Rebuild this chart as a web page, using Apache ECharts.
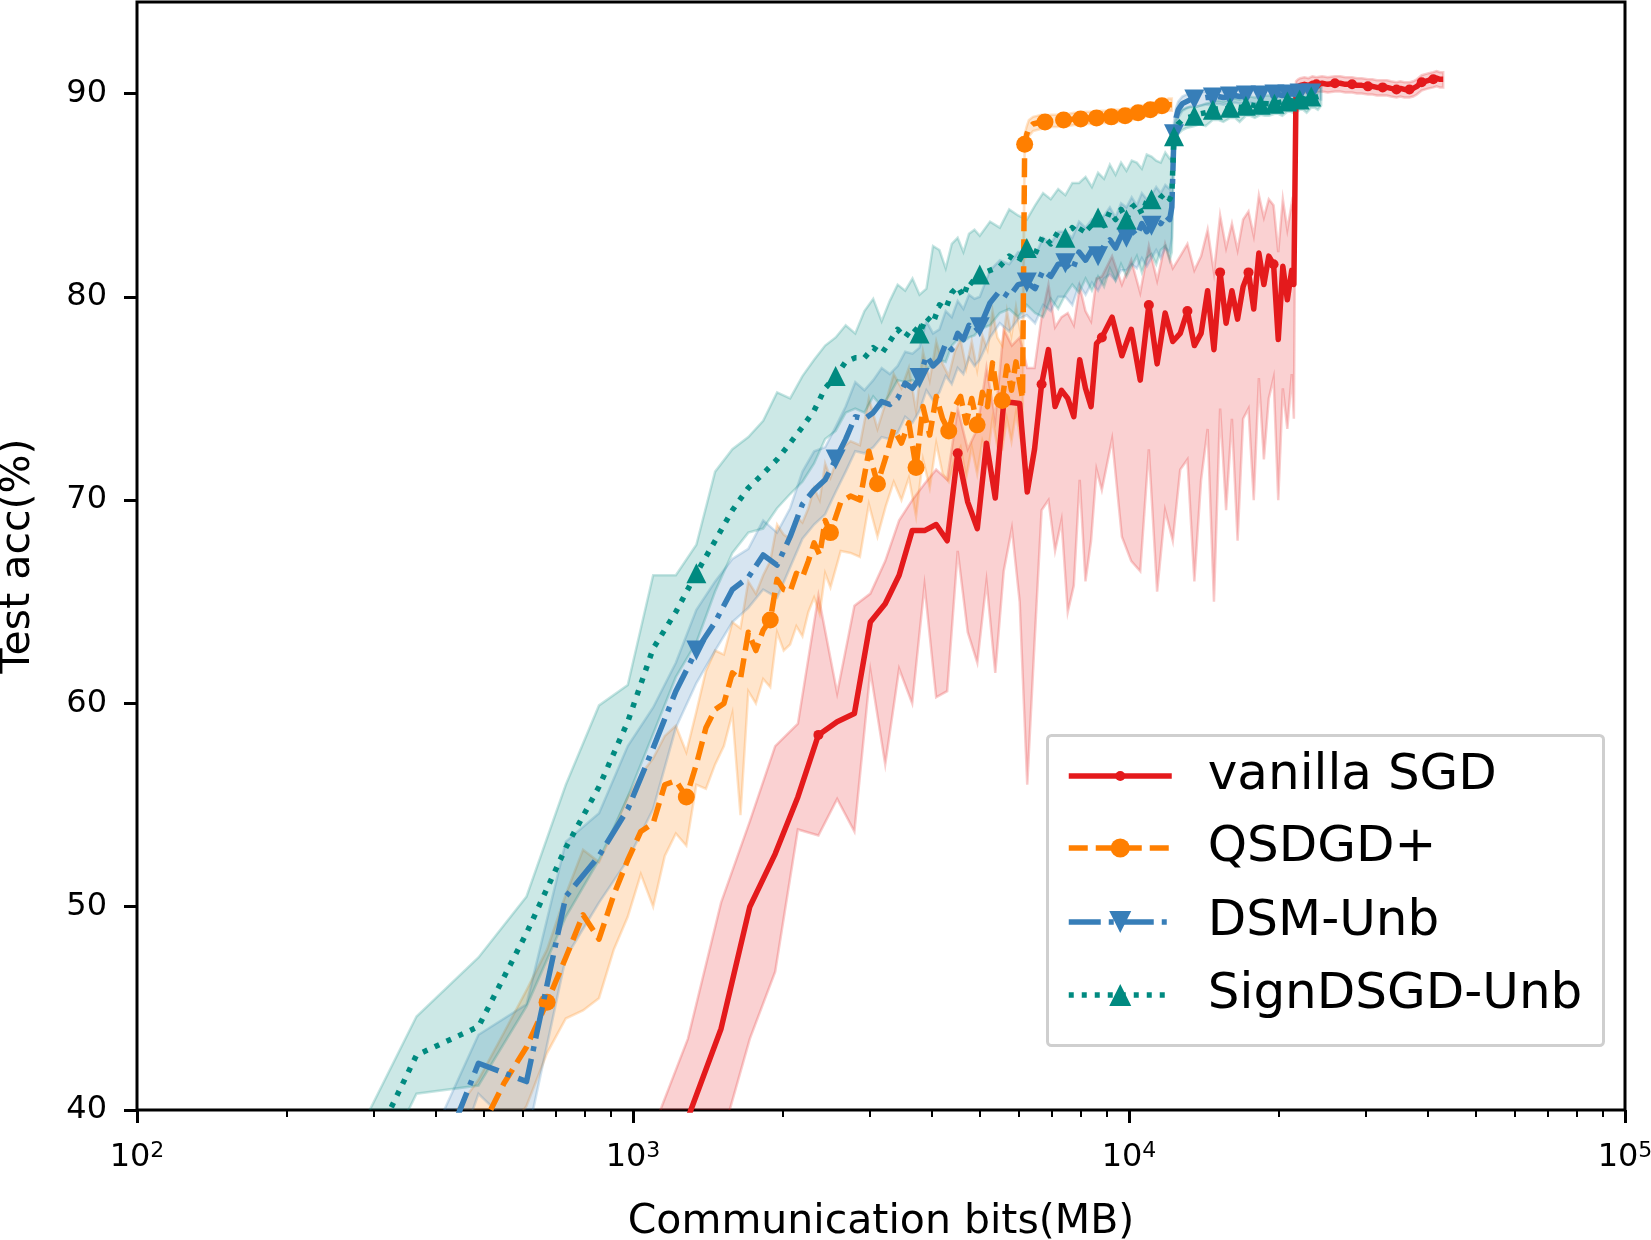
<!DOCTYPE html>
<html><head><meta charset="utf-8">
<script src="https://cdn.jsdelivr.net/npm/echarts@6/dist/echarts.min.js"></script>
<style>html,body{margin:0;padding:0;background:#fff}#c{width:1651px;height:1240px}</style>
</head><body><div id="c"></div>
<script>
// ---- data ----
const epochs = [2,3,4,5,6,7,8,9,10,11,12,13,14,15,16,17,18,19,20,21,22,23,24,25,26,27,28,29,30,31,32,33,34,35,36,37,38,39,40,41,
 43,45,47,49,51,53,55,57,59,61,63,65,67,69,71,73,75,77,79,81,83,85,87,89,91,93,95,97,99,
 100,
 101,102,103,105,107,109,
 111,114,117,121,124,127,131,134,137,141,144,147,151,154,157,161,164,167,171,174,177,181,184,187,191,194,197,
 200];

// communication cost of one epoch (MB) per method
const sgdMBPerEpoch = 215;
const qsdgdMBPerEpoch = 61;
const dsmMBPerEpoch = 122;
const signMBPerEpoch = 122;

const seriesNames = ['vanilla SGD', 'QSDGD+', 'DSM-Unb', 'SignDSGD-Unb'];

const sgdAcc = [18.0,24.0,29.0,34.0,39.6,44.0,50.0,52.6,55.4,58.45,59.1,59.5,64.0,64.9,66.3,68.5,68.5,68.8,68.0,72.3,69.9,68.6,72.8,70.1,74.8,74.8,74.75,70.4,72.5,75.7,77.4,74.6,75.4,75.0,74.1,76.9,75.5,74.6,77.7,78.0,
 79.0,77.1,78.4,75.9,79.6,76.7,79.2,77.8,78.2,79.3,77.6,78.2,80.3,77.4,81.2,78.7,80.3,78.9,80.5,81.2,79.4,82.15,80.6,82.0,81.6,77.9,81.5,79.85,81.3,
 80.6,
 90.2,90.35,90.4,90.45,90.4,90.5,
 90.45,90.5,90.45,90.5,90.5,90.45,90.45,90.4,90.4,90.35,90.35,90.3,90.3,90.3,90.25,90.2,90.25,90.2,90.2,90.25,90.35,90.55,90.6,90.65,90.7,90.75,90.7,
 90.7];
const sgdHi = [22.0,28.0,33.0,38.5,43.5,50.2,54.2,57.9,59.0,65.3,60.5,64.8,65.4,67.0,69.0,70.0,70.8,71.5,71.0,74.5,72.5,73.5,76.5,74.0,78.4,77.6,78.0,76.5,76.5,79.0,80.6,78.5,79.0,79.2,78.6,80.5,79.3,78.8,80.9,81.0,
 82.0,80.6,81.8,80.2,82.5,80.8,82.6,81.4,82.0,82.6,81.3,82.0,83.3,81.2,84.0,82.4,83.6,82.3,83.8,84.2,83.0,85.0,83.9,84.8,84.5,82.2,84.8,83.3,84.6,
 84.0,
 90.6,90.7,90.75,90.8,90.75,90.85,
 90.8,90.85,90.8,90.85,90.85,90.8,90.8,90.75,90.75,90.7,90.7,90.65,90.65,90.65,90.6,90.55,90.6,90.55,90.55,90.6,90.7,90.9,90.95,91.0,91.05,91.1,91.05,
 91.05];
const sgdLo = [14.0,20.0,25.0,29.0,35.0,38.5,43.5,46.8,53.8,53.5,55.3,53.7,61.6,57.0,61.7,60.0,65.8,60.3,60.6,67.5,63.5,62.0,66.0,61.5,66.5,68.6,65.0,56.0,63.0,69.5,70.0,67.5,69.0,64.5,65.8,71.0,66.0,68.0,71.5,70.5,
 73.0,68.2,67.0,66.5,72.5,65.5,69.5,68.0,71.5,72.0,66.0,71.0,73.5,65.0,74.5,69.5,74.0,68.0,74.0,74.5,70.0,76.0,72.0,75.0,76.0,70.0,75.5,73.5,76.2,
 74.0,
 89.7,89.95,90.0,90.05,90.0,90.1,
 90.05,90.1,90.05,90.1,90.1,90.05,90.05,90.0,90.0,89.95,89.95,89.9,89.9,89.9,89.85,89.8,89.85,89.8,89.8,89.85,89.95,90.15,90.2,90.25,90.3,90.35,90.3,
 90.3];

const qsdgdAcc = [20.0,25.0,29.0,32.0,34.5,36.5,38.8,41.3,43.1,45.3,47.5,49.6,48.4,50.6,52.3,53.7,54.1,56.0,56.2,55.4,57.0,58.8,59.7,60.0,61.5,61.2,63.5,62.6,63.6,64.1,66.1,65.6,65.5,66.4,66.2,67.0,67.9,67.3,69.0,68.4,
 69.9,70.2,70.0,72.4,70.8,72.1,73.5,72.8,73.8,71.6,74.6,73.2,75.1,74.0,73.4,74.6,75.1,73.8,75.0,73.7,75.3,74.6,76.75,75.2,74.9,76.6,75.4,76.8,75.6,
 75.0,
 87.5,88.0,88.3,88.5,88.55,88.6,
 88.6,88.65,88.65,88.7,88.7,88.75,88.75,88.8,88.8,88.8,88.85,88.85,88.85,88.9,88.9,88.9,88.95,89.0,89.05,89.1,89.15,89.2,89.25,89.3,89.4,89.4,89.45,
 89.45];
const qsdgdHi = [23.0,28.0,32.0,35.0,37.5,39.5,41.5,43.8,45.9,47.9,50.6,52.8,52.2,53.8,55.4,56.5,57.3,58.4,58.9,57.6,59.6,61.6,62.6,62.4,64.0,63.7,66.0,65.4,66.3,67.0,68.8,68.3,68.1,69.2,68.9,69.6,70.6,70.0,71.8,71.1,
 72.5,72.9,72.7,75.0,73.5,74.8,76.2,75.5,76.5,74.4,77.3,75.9,77.8,76.7,76.1,77.3,77.9,76.5,77.8,76.4,78.1,77.4,79.3,78.0,77.6,79.3,78.1,79.5,78.3,
 77.6,
 88.0,88.4,88.7,88.85,88.9,88.95,
 88.9,88.95,88.95,89.0,89.0,89.05,89.05,89.1,89.1,89.1,89.15,89.15,89.15,89.2,89.2,89.2,89.25,89.3,89.35,89.4,89.45,89.5,89.55,89.6,89.7,89.7,89.75,
 89.75];
const qsdgdLo = [17.0,22.0,26.0,29.0,31.5,33.5,36.0,38.6,40.2,42.8,44.5,44.9,45.5,47.9,49.5,51.6,50.0,52.5,53.6,53.0,56.0,55.8,57.0,57.9,59.5,54.5,60.6,60.0,61.2,60.8,63.5,62.6,62.9,63.8,63.3,64.5,65.2,64.4,66.4,65.7,
 67.5,67.4,67.2,69.8,68.2,69.7,70.9,70.0,71.1,69.2,72.0,70.6,72.8,71.3,70.9,72.0,72.6,71.1,72.6,71.3,72.9,72.1,74.0,72.6,72.5,74.0,72.9,74.3,73.0,
 72.6,
 87.0,87.6,87.9,88.15,88.2,88.25,
 88.3,88.35,88.35,88.4,88.4,88.45,88.45,88.5,88.5,88.5,88.55,88.55,88.55,88.6,88.6,88.6,88.65,88.7,88.75,88.8,88.85,88.9,88.95,89.0,89.1,89.1,89.15,
 89.15];

const dsmAcc = [28.0,34.6,42.3,41.4,50.5,52.5,54.8,57.8,60.6,62.6,64.0,65.6,66.2,67.3,66.8,68.2,69.8,70.5,71.0,72.0,73.0,74.1,74.0,74.3,74.85,74.7,75.0,75.75,75.5,76.0,77.1,76.6,76.9,77.7,77.4,78.2,77.9,78.6,78.3,78.5,
 79.7,80.3,80.0,80.6,80.7,80.4,81.3,81.0,81.6,81.65,81.3,82.2,81.8,82.3,82.0,82.5,82.8,82.4,83.0,82.9,83.3,83.0,83.6,83.2,83.5,83.9,83.6,84.0,83.8,
 84.4,
 88.0,88.8,89.2,89.5,89.6,89.7,
 89.7,89.75,89.8,89.8,89.85,89.8,89.85,89.9,89.85,89.9,89.9,89.85,89.9,89.95,89.9,89.95,89.95,89.9,89.95,90.0,89.95,90.0,90.0,89.95,90.0,90.05,90.0,
 90.05];
const dsmHi = [30.0,37.0,43.7,45.2,53.2,54.6,57.9,59.8,62.0,64.6,66.0,67.1,67.6,69.0,68.4,69.6,71.4,72.4,72.6,73.6,74.6,75.8,75.4,75.9,76.5,76.2,76.6,77.3,77.2,77.5,78.8,78.2,78.4,79.3,79.0,79.8,79.4,80.1,79.9,80.0,
 81.3,81.8,81.6,82.2,82.2,82.0,82.9,82.6,83.2,83.2,82.9,83.7,83.4,83.8,83.6,84.0,84.4,83.9,84.6,84.4,84.9,84.5,85.1,84.8,85.0,85.4,85.1,85.5,85.3,
 85.8,
 88.6,89.3,89.6,89.85,89.95,90.05,
 90.0,90.05,90.1,90.1,90.15,90.1,90.15,90.2,90.15,90.2,90.2,90.15,90.2,90.25,90.2,90.25,90.25,90.2,90.25,90.3,90.25,90.3,90.3,90.25,90.3,90.35,90.3,
 90.35];
const dsmLo = [26.0,32.0,40.8,38.5,47.5,50.2,52.3,54.8,58.8,61.0,62.6,64.0,64.7,65.6,65.2,66.7,68.1,68.8,69.3,70.4,71.4,72.4,72.3,72.6,73.1,73.0,73.3,74.1,73.8,74.4,75.4,74.9,75.3,76.1,75.7,76.5,76.2,77.0,76.6,76.9,
 78.0,78.7,78.3,78.9,79.1,78.7,79.6,79.3,80.0,80.0,79.6,80.6,80.1,80.7,80.3,80.9,81.1,80.8,81.3,81.3,81.6,81.4,81.9,81.5,81.9,82.3,81.9,82.4,82.2,
 82.9,
 87.4,88.3,88.8,89.15,89.25,89.35,
 89.35,89.4,89.45,89.45,89.5,89.45,89.5,89.55,89.5,89.55,89.55,89.5,89.55,89.6,89.55,89.6,89.6,89.55,89.6,89.65,89.6,89.65,89.65,89.6,89.65,89.7,89.65,
 89.7];

const signAcc = [33.8,42.7,44.1,48.7,52.9,55.9,59.1,62.7,64.5,66.4,68.0,69.5,70.6,71.3,72.0,72.8,73.6,74.4,75.5,76.1,76.8,77.0,77.0,77.5,77.2,77.8,78.4,78.0,78.5,78.2,79.0,78.7,79.6,79.4,80.2,80.5,80.0,80.8,80.6,81.1,
 81.3,81.5,82.0,81.7,82.4,82.1,83.0,82.6,83.2,82.9,83.4,83.1,83.6,83.3,83.9,83.5,84.2,83.8,84.3,83.8,84.4,84.6,84.1,84.7,84.8,84.5,84.9,85.1,84.8,
 85.0,
 87.9,88.3,88.5,88.7,88.8,88.85,
 88.9,89.0,89.05,89.2,89.25,89.2,89.3,89.35,89.3,89.4,89.45,89.4,89.45,89.5,89.5,89.5,89.55,89.6,89.6,89.65,89.6,89.7,89.75,89.7,89.85,89.8,89.85,
 89.9];
const signHi = [36.0,44.6,47.5,50.5,56.0,59.9,60.9,66.3,66.3,67.8,71.4,72.5,73.1,73.9,75.3,75.0,76.1,76.9,77.6,78.0,78.6,78.2,79.3,79.9,78.8,79.8,80.6,80.3,80.9,80.1,80.4,82.5,82.3,81.4,82.6,82.9,82.2,83.1,83.3,83.0,
 83.7,83.4,84.3,84.0,83.8,84.5,85.1,84.8,85.3,85.0,85.6,85.6,85.9,85.4,86.1,85.8,86.5,86.0,86.6,86.2,86.7,86.6,86.3,87.0,86.9,86.7,86.6,87.1,86.8,
 86.9,
 88.4,88.8,89.0,89.2,89.3,89.35,
 89.3,89.4,89.5,89.6,89.65,89.6,89.7,89.75,89.7,89.8,89.85,89.8,89.85,89.9,89.9,89.9,89.95,90.0,90.0,90.05,90.0,90.1,90.15,90.1,90.25,90.2,90.25,
 90.3];
const signLo = [32.0,40.8,41.2,45.1,49.5,52.3,55.4,58.5,61.3,63.0,65.5,67.4,68.4,68.6,69.6,70.3,70.9,71.8,73.0,73.4,74.3,74.5,74.3,75.1,74.6,75.2,75.9,75.8,75.9,75.6,76.4,76.7,76.9,76.8,77.6,77.9,77.8,78.0,78.1,78.4,
 78.6,79.2,79.4,79.0,79.6,79.2,79.0,79.9,79.4,80.1,80.6,80.2,80.9,80.3,81.0,80.5,81.4,80.8,81.6,81.0,81.5,82.0,81.2,81.9,82.1,81.6,82.3,82.5,81.8,
 82.2,
 87.3,87.8,88.0,88.2,88.3,88.35,
 88.4,88.5,88.4,88.7,88.7,88.6,88.8,88.8,88.6,88.9,88.9,88.8,88.95,88.9,88.9,89.0,89.0,88.9,89.1,89.1,89.0,89.2,89.2,89.05,89.3,89.3,89.2,
 89.4];

const xMajorTicks = [100, 1000, 10000, 100000];
const xMinorTicks = [200,300,400,500,600,700,800,900,2000,3000,4000,5000,6000,7000,8000,9000,20000,30000,40000,50000,60000,70000,80000,90000];
const yTicks = [40, 50, 60, 70, 80, 90];

// ---- chart ----
[sgdAcc,sgdHi,sgdLo,qsdgdAcc,qsdgdHi,qsdgdLo,dsmAcc,dsmHi,dsmLo,signAcc,signHi,signLo].forEach((a,k)=>{
  if (a.length !== epochs.length) throw new Error('array ' + k + ' has length ' + a.length);
});

const FONT = 'DejaVu Sans';
const LW = 5.5;
const COLORS = { sgd:[228,26,28], qsdgd:[255,127,0], dsm:[55,126,184], sign:[0,138,128] };
const rgb = (c,a) => a == null ? `rgb(${c[0]},${c[1]},${c[2]})` : `rgba(${c[0]},${c[1]},${c[2]},${a})`;

function bandSeries(mbPerEpoch, lo, hi, c) {
  const xs = epochs.map(e => e * mbPerEpoch);
  return {
    type: 'custom', coordinateSystem: 'cartesian2d', clip: true, silent: true, z: 1,
    data: xs.map((x, i) => [x, lo[i], hi[i]]),
    encode: { x: 0, y: [1, 2] },
    renderItem: function (params, api) {
      if (params.dataIndex !== 0) return null;
      const pts = [];
      for (let i = 0; i < xs.length; i++) pts.push(api.coord([xs[i], hi[i]]));
      for (let i = xs.length - 1; i >= 0; i--) pts.push(api.coord([xs[i], lo[i]]));
      return { type: 'polygon', shape: { points: pts }, style: { fill: rgb(c, 0.2), stroke: rgb(c, 0.22), lineWidth: 2.5 } };
    },
    animation: false
  };
}

function lineSeries(name, mbPerEpoch, acc, c, symbol, symbolSize, rotate, dash, z) {
  const data = epochs.map((e, i) => {
    const item = { value: [e * mbPerEpoch, acc[i]] };
    if (e % 10 !== 1) item.symbol = 'none';
    return item;
  });
  return {
    type: 'line', name: name, data: data, z: z,
    symbol: symbol, symbolSize: symbolSize, symbolRotate: rotate,
    showSymbol: true, showAllSymbol: true, clip: true,
    lineStyle: { color: rgb(c), width: LW, type: dash, cap: 'butt', join: 'round' },
    itemStyle: { color: rgb(c), borderWidth: 0 },
    emphasis: { disabled: true },
    animation: false
  };
}

const legendCenters = [776, 848, 922, 995];
const legendIconH = [12.5, 24, 27.5, 27.5];
function legendFor(k) {
  return {
    data: [{ name: seriesNames[k] }],
    left: 1066, top: legendCenters[k] - 25,
    orient: 'vertical', padding: 0, selectedMode: false, z: 20,
    itemWidth: 103, itemHeight: legendIconH[k],
    lineStyle: { width: LW },
    formatter: n => '{s| }' + n,
    textStyle: { fontSize: 50, fontFamily: FONT, color: '#000', rich: { s: { width: 31, fontSize: 50, fontFamily: FONT } } }
  };
}

const chart = echarts.init(document.getElementById('c'), null, { renderer: 'canvas' });
chart.setOption({
  animation: false,
  backgroundColor: '#fff',
  grid: { left: 137, right: 26, top: 2, bottom: 130, show: true, borderColor: '#000', borderWidth: 3, backgroundColor: 'transparent', containLabel: false, outerBoundsMode: 'none' },
  xAxis: [
    {
      type: 'log', logBase: 10, min: 100, max: 100000, position: 'bottom',
      name: 'Communication bits(MB)', nameLocation: 'middle', nameGap: 92,
      nameTextStyle: { fontSize: 41, fontFamily: FONT, color: '#000' },
      axisLine: { show: false }, splitLine: { show: false }, minorTick: { show: false },
      axisTick: { show: true, length: 13, lineStyle: { color: '#000', width: 3 }, customValues: xMajorTicks },
      axisLabel: {
        margin: 30, customValues: xMajorTicks,
        formatter: v => '{b|10}{s|' + Math.round(Math.log10(v)) + '}',
        rich: {
          b: { fontSize: 32, fontFamily: FONT, color: '#000', lineHeight: 36 },
          s: { fontSize: 22, fontFamily: FONT, color: '#000', verticalAlign: 'top', lineHeight: 24 }
        }
      }
    },
    {
      type: 'log', logBase: 10, min: 100, max: 100000, position: 'bottom',
      axisLine: { show: false }, splitLine: { show: false }, axisLabel: { show: false },
      axisTick: { show: true, length: 7, lineStyle: { color: '#000', width: 2 }, customValues: xMinorTicks }
    }
  ],
  yAxis: {
    type: 'value', min: 40, max: 94.5, interval: 10,
    name: 'Test acc(%)', nameLocation: 'middle', nameGap: 98, nameRotate: 90,
    nameTextStyle: { fontSize: 41, fontFamily: FONT, color: '#000' },
    axisLine: { show: false }, splitLine: { show: false },
    axisTick: { show: true, length: 13, lineStyle: { color: '#000', width: 3 }, customValues: yTicks },
    axisLabel: { margin: 30, fontSize: 32, fontFamily: FONT, color: '#000', customValues: yTicks }
  },
  legend: [legendFor(0), legendFor(1), legendFor(2), legendFor(3)],
  graphic: [{
    type: 'rect', left: 1046, top: 734, z: 10, silent: true,
    shape: { width: 556, height: 310, r: 4 },
    style: { fill: 'rgba(255,255,255,0.85)', stroke: '#cfcfcf', lineWidth: 3 }
  }],
  series: [
    bandSeries(sgdMBPerEpoch, sgdLo, sgdHi, COLORS.sgd),
    bandSeries(qsdgdMBPerEpoch, qsdgdLo, qsdgdHi, COLORS.qsdgd),
    bandSeries(dsmMBPerEpoch, dsmLo, dsmHi, COLORS.dsm),
    bandSeries(signMBPerEpoch, signLo, signHi, COLORS.sign),
    lineSeries(seriesNames[0], sgdMBPerEpoch, sgdAcc, COLORS.sgd, 'circle', 10, 0, 'solid', 2),
    lineSeries(seriesNames[1], qsdgdMBPerEpoch, qsdgdAcc, COLORS.qsdgd, 'circle', 17, 0, [19, 8], 3),
    lineSeries(seriesNames[2], dsmMBPerEpoch, dsmAcc, COLORS.dsm, 'triangle', 20, 180, [32, 8, 5, 8], 4),
    lineSeries(seriesNames[3], signMBPerEpoch, signAcc, COLORS.sign, 'triangle', 20, 0, [5, 8], 5)
  ]
});
</script>
</body></html>
